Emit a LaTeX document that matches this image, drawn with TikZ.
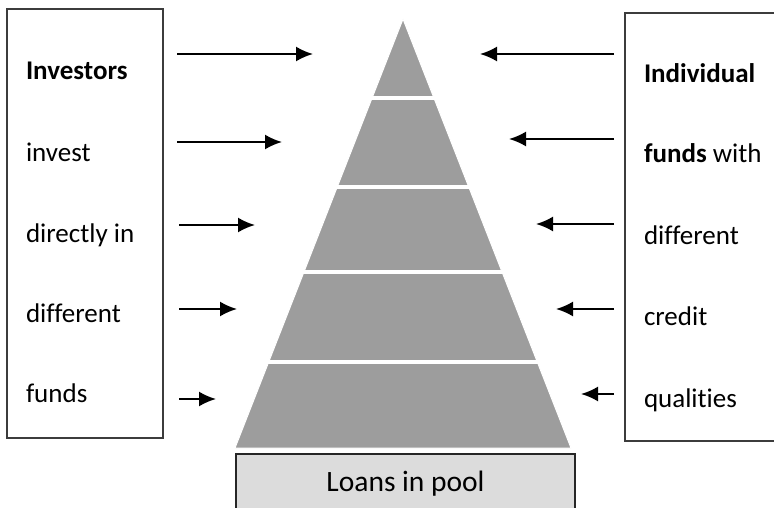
\documentclass[tikz,border=0pt]{standalone}
\usepackage{fontspec}
\setmainfont[Ligatures=NoCommon]{Carlito}
\usepackage{tikz}
\usetikzlibrary{positioning}
\usetikzlibrary{arrows.meta}
\definecolor{tiergray}{HTML}{9D9D9D}
\definecolor{poolgray}{HTML}{DCDCDC}
\definecolor{boxline}{HTML}{3C3C3C}
\tikzset{every picture/.style={line width=2pt}}
\tikzset{txt/.style={anchor=base west,inner sep=0pt,font=\fontsize{27}{30}\selectfont}}
\tikzset{arr/.style={-{Latex[length=17pt,width=15pt]}}}

\begin{document}
\begin{tikzpicture}[x=1pt,y=-1pt]
\useasboundingbox (0,0) rectangle (774,508);

% side boxes
\node (lbox) at (85,223.5) [draw=boxline,minimum width=156pt,minimum height=428pt] {};
\node (rbox) at (712.5,227) [draw=boxline,minimum width=175pt,minimum height=428pt] {};

% left column
\node (l1) at (25,80) [txt] {\textbf{Investors}};
\node (l2) at (25,161) [txt] {invest};
\node (l3) at (25,242) [txt] {directly in};
\node (l4) at (25,322) [txt] {different};
\node (l5) at (25,402) [txt] {funds};

% right column
\node (r1) at (643,83) [txt] {\textbf{Individual}};
\node (r2) at (643,163) [txt] {\textbf{funds} with};
\node (r3) at (643,244) [txt] {different};
\node (r4) at (643,325) [txt] {credit};
\node (r5) at (643,407) [txt] {qualities};

% pyramid
\coordinate (apex) at (403,19);
\coordinate (bl) at (235,448);
\coordinate (br) at (571,448);
\fill[tiergray] (apex) -- (bl) -- (br) -- cycle;
\draw[white,line width=1pt,line join=miter] (apex) -- (bl) -- (br) -- cycle;
\draw[white,line width=4pt] (330,98) -- (480,98);
\draw[white,line width=4pt] (300,187) -- (510,187);
\draw[white,line width=4pt] (270,272) -- (540,272);
\draw[white,line width=4pt] (230,362) -- (580,362);

% base box
\node (pool) at (405.5,492) [draw=black!85,fill=poolgray,minimum width=339pt,minimum height=76pt] {};
\node (pooltxt) at (405.5,491) [txt,anchor=base,font=\fontsize{29.5}{32}\selectfont] {Loans in pool};

% arrows from the left
\coordinate (la1) at (177,54);  \coordinate (lb1) at (313,54);
\coordinate (la2) at (177,142); \coordinate (lb2) at (282,142);
\coordinate (la3) at (179,225); \coordinate (lb3) at (255,225);
\coordinate (la4) at (179,309); \coordinate (lb4) at (237,309);
\coordinate (la5) at (179,399); \coordinate (lb5) at (216,399);
\draw[arr] (la1) -- (lb1);
\draw[arr] (la2) -- (lb2);
\draw[arr] (la3) -- (lb3);
\draw[arr] (la4) -- (lb4);
\draw[arr] (la5) -- (lb5);

% arrows from the right
\coordinate (ra1) at (614,54);  \coordinate (rb1) at (480,54);
\coordinate (ra2) at (614,139); \coordinate (rb2) at (509,139);
\coordinate (ra3) at (614,224); \coordinate (rb3) at (536,224);
\coordinate (ra4) at (614,309); \coordinate (rb4) at (556,309);
\coordinate (ra5) at (614,394); \coordinate (rb5) at (581,394);
\draw[arr] (ra1) -- (rb1);
\draw[arr] (ra2) -- (rb2);
\draw[arr] (ra3) -- (rb3);
\draw[arr] (ra4) -- (rb4);
\draw[arr] (ra5) -- (rb5);

\end{tikzpicture}
\end{document}
